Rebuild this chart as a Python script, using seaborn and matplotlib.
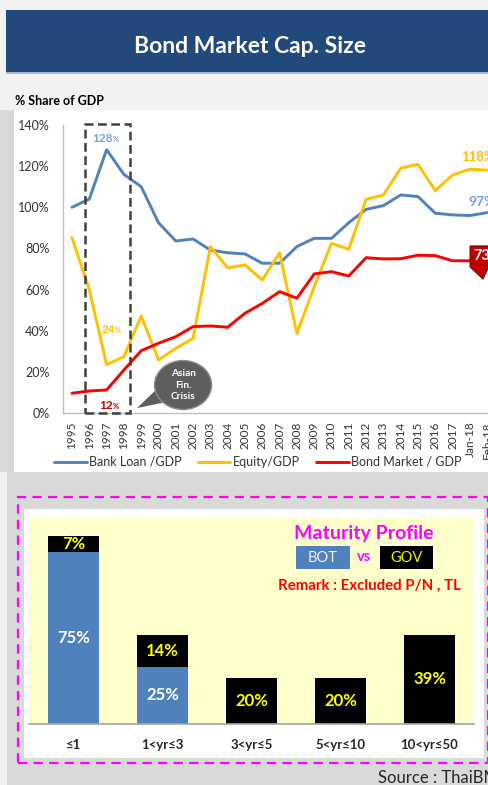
import numpy as np
import pandas as pd
import matplotlib
matplotlib.use("Agg")
import matplotlib.pyplot as plt
import seaborn as sns
from matplotlib.patches import Rectangle, Ellipse, Polygon
from matplotlib.lines import Line2D

# ---------------- data ----------------
years = ["1995", "1996", "1997", "1998", "1999", "2000", "2001", "2002", "2003",
         "2004", "2005", "2006", "2007", "2008", "2009", "2010", "2011", "2012",
         "2013", "2014", "2015", "2016", "2017", "Jan-18", "Feb-18"]
bank_loan = [100, 104, 128, 116, 110, 92.5, 83.6, 84.6, 79.2, 77.9, 77.3, 72.8,
             72.8, 80.9, 84.9, 84.9, 92.5, 99.0, 100.8, 106, 105.2, 97.1, 96.3,
             96, 97.4]
equity = [85.2, 60, 23.5, 27.4, 47.2, 25.8, 31.4, 36.3, 80.9, 70.5, 72, 64.7,
          77.9, 38.7, 61.4, 82.5, 79.6, 103.9, 106, 119, 120.9, 108.1, 115.7,
          118.5, 118.1]
bond = [9.6, 10.7, 11.2, 20.9, 30.3, 33.9, 37.1, 42, 42.3, 41.7, 48.5, 53.3, 59,
        55.8, 67.6, 68.7, 66.6, 75.5, 74.9, 75, 76.7, 76.5, 74, 74, 73]
series_names = ["Bank Loan /GDP", "Equity/GDP", "Bond Market / GDP"]
series_colors = ["#4f81bd", "#ffc000", "#ff0000"]
y_ticks = [0, 20, 40, 60, 80, 100, 120, 140]

maturity = ["\u22641", "1<yr\u22643", "3<yr\u22645", "5<yr\u226410", "10<yr\u226450"]
bot_share = [75, 25, 0, 0, 0]
gov_share = [7, 14, 20, 20, 39]

# ---------------- style ----------------
sns.set_style("white")
plt.rcParams["font.family"] = ["Lato", "DejaVu Sans"]

W, H = 489, 785
fig = plt.figure(figsize=(W / 100, H / 100), dpi=100)
fig.patch.set_facecolor("#f2f2f2")


def fx(px):
    return px / W


def fy(py):
    return 1 - py / H


def frect(x0, y0, x1, y1, **kw):
    r = Rectangle((fx(x0), fy(y1)), (x1 - x0) / W, (y1 - y0) / H,
                  transform=fig.transFigure, **kw)
    fig.add_artist(r)
    return r


# backgrounds
frect(6, 10, 495, 72, facecolor="#21497c", edgecolor="none", zorder=-5)
frect(6, 72, 495, 74, facecolor="#a9b9d0", edgecolor="none", zorder=-5)
frect(0, 110, 14, 472, facecolor="#d9d9d9", edgecolor="none", zorder=-5)
frect(14, 110, 495, 472, facecolor="white", edgecolor="none", zorder=-5)
frect(7, 472, 495, 790, facecolor="#d9d9d9", edgecolor="none", zorder=-5)
frect(24, 509, 484, 758, facecolor="white", edgecolor="none", zorder=-4)
frect(18, 497, 488, 763, facecolor="none", edgecolor="#ff00ff", lw=1.6,
      linestyle=(0, (4.2, 2.8)), zorder=-3)

fig.text(fx(250), fy(53), "Bond Market Cap. Size", color="white",
         fontsize=16.5, fontweight="bold", ha="center", va="baseline")
fig.text(fx(15), fy(105), "% Share of GDP", color="black", fontsize=9,
         fontweight="bold", ha="left", va="baseline")

# ---------------- line chart ----------------
step = 17.3
ax = fig.add_axes([fx(72 - step / 2), fy(413), (len(years) * step) / W,
                   (413 - 125) / H])
ax.set_facecolor("none")

df = pd.DataFrame({
    "year": years * 3,
    "value": bank_loan + equity + bond,
    "series": sum([[s] * len(years) for s in series_names], []),
})
sns.lineplot(data=df, x="year", y="value", hue="series",
             palette=dict(zip(series_names, series_colors)),
             linewidth=2.1, sort=False, legend=False, ax=ax)

ax.set_xlim(-0.5, len(years) - 0.5)
ax.set_ylim(0, 140)
ax.set_yticks(y_ticks)
ax.set_yticklabels([f"{v}%" for v in y_ticks])
ax.set_xticks(range(len(years)))
ax.set_xticklabels(years, rotation=90)
ax.tick_params(axis="y", length=0, pad=10, labelsize=9, labelcolor="#333333")
ax.tick_params(axis="x", length=0, pad=6, labelsize=8.5, labelcolor="#333333")
ax.set_xlabel("")
ax.set_ylabel("")
for s in ["top", "right"]:
    ax.spines[s].set_visible(False)
for s in ["left", "bottom"]:
    ax.spines[s].set_color("#bfbfbf")
    ax.spines[s].set_linewidth(1)

# dashed crisis box
ax.add_patch(Rectangle((0.75, 0), 3.35 - 0.75, 140.5, facecolor="none",
                       edgecolor="#404040", lw=1.8, linestyle=(0, (3.5, 1.8)),
                       clip_on=False, zorder=5))

# bubble
ax.add_patch(Polygon([(4.97, 12.2), (5.43, 5.3), (3.76, 2.4)], closed=True,
                     facecolor="#5e5e5e", edgecolor="none", clip_on=False,
                     zorder=6))
ax.add_patch(Ellipse((6.42, 13.6), 3.3, 23.8, facecolor="#5e5e5e",
                     edgecolor="#8c8c8c", lw=1, clip_on=False, zorder=6))
ax.text(6.42, 13.6, "Asian\nFin.\nCrisis", color="white", fontsize=7.3,
        fontweight="bold", ha="center", va="center", linespacing=1.3,
        zorder=7)


def pct_label(x, y, num, color, size, small):
    ax.text(x, y, num, color=color, fontsize=size, fontweight="bold",
            ha="right", va="baseline", zorder=7, clip_on=False)
    ax.text(x, y, "%", color=color, fontsize=small, fontweight="bold",
            ha="left", va="baseline", zorder=7, clip_on=False)


pct_label(2.37, 131.7, "128", "#6f9fe6", 8.5, 5.5)
pct_label(2.49, 39, "24", "#ffc000", 8.5, 5.5)
pct_label(2.37, 1.9, "12", "#c00000", 8.5, 5.5)

ax.text(22.5, 124.5, "118%", color="#ffc000", fontsize=9.5, fontweight="bold",
        ha="left", va="center", clip_on=False)
ax.text(22.9, 102.7, "97%", color="#6f9fe6", fontsize=10, fontweight="bold",
        ha="left", va="center", clip_on=False)
ax.add_patch(Polygon([(23.01, 81.2), (24.9, 81.2), (24.9, 70.5), (24.05, 70.5),
                      (23.76, 65.1), (23.01, 71.0)], closed=True,
                     facecolor="#c00000", edgecolor="#7f0000", lw=0.8,
                     clip_on=False, zorder=6))
ax.text(23.22, 76.3, "73%", color="white", fontsize=10.5, fontweight="bold",
        ha="left", va="center", zorder=7, clip_on=False)

handles = [Line2D([0], [0], color=c, lw=2.1) for c in series_colors]
fig.legend(handles, series_names, loc="center",
           bbox_to_anchor=(fx(258), fy(462)), ncol=3, frameon=False,
           fontsize=9, handlelength=2.6, handletextpad=0.2,
           columnspacing=1.3, labelcolor="#333333")

# ---------------- bar chart ----------------
ax2 = fig.add_axes([fx(29), fy(724), (474 - 29) / W, (724 - 518) / H])
ax2.set_facecolor("#ffffcc")
df2 = pd.DataFrame({
    "maturity": maturity,
    "total": [b + g for b, g in zip(bot_share, gov_share)],
    "bot": bot_share,
})
sns.barplot(data=df2, x="maturity", y="total", color="black", width=0.57,
            saturation=1, linewidth=0, edgecolor="none", ax=ax2)
sns.barplot(data=df2, x="maturity", y="bot", color="#4f81bd", width=0.57,
            saturation=1, linewidth=0, edgecolor="none", ax=ax2)
ax2.set_xlim(-0.5, len(maturity) - 0.5)
ax2.set_ylim(0, 90)
ax2.set_yticks([])
ax2.set_xlabel("")
ax2.set_ylabel("")
ax2.tick_params(axis="x", length=0, pad=11, labelsize=9.5)
for lab in ax2.get_xticklabels():
    lab.set_fontweight("bold")
for s in ["top", "right", "left"]:
    ax2.spines[s].set_visible(False)
ax2.spines["bottom"].set_color("#a6a6a6")
ax2.spines["bottom"].set_linewidth(1.2)

for i, (b, g) in enumerate(zip(bot_share, gov_share)):
    if b > 0:
        ax2.text(i, b / 2, f"{b}%", color="white", fontsize=12,
                 fontweight="bold", ha="center", va="center")
    ax2.text(i, b + g / 2, f"{g}%", color="#ffff00", fontsize=12,
             fontweight="bold", ha="center", va="center")

fig.text(fx(364), fy(533), "Maturity Profile", color="#ff00ff", fontsize=14,
         fontweight="bold", ha="center", va="center")
frect(296, 546, 350, 569, facecolor="#4f81bd", edgecolor="none", zorder=2)
frect(380, 546, 433, 569, facecolor="black", edgecolor="none", zorder=2)
fig.text(fx(323), fy(557.5), "BOT", color="#eaf0f8", fontsize=10.5,
         ha="center", va="center", zorder=3)
fig.text(fx(406.5), fy(557.5), "GOV", color="#f2f200", fontsize=10.5,
         ha="center", va="center", zorder=3)
fig.text(fx(364.5), fy(557), "vs", color="#ff00ff", fontsize=10.5,
         fontweight="bold", ha="center", va="center")
fig.text(fx(369.5), fy(586), "Remark : Excluded P/N , TL", color="#ff0000",
         fontsize=10.8, fontweight="bold", ha="center", va="center")

fig.text(fx(378), fy(783), "Source : ThaiBMA", color="#262626", fontsize=12,
         ha="left", va="baseline")

fig.savefig("out.png", dpi=100, facecolor=fig.get_facecolor())
